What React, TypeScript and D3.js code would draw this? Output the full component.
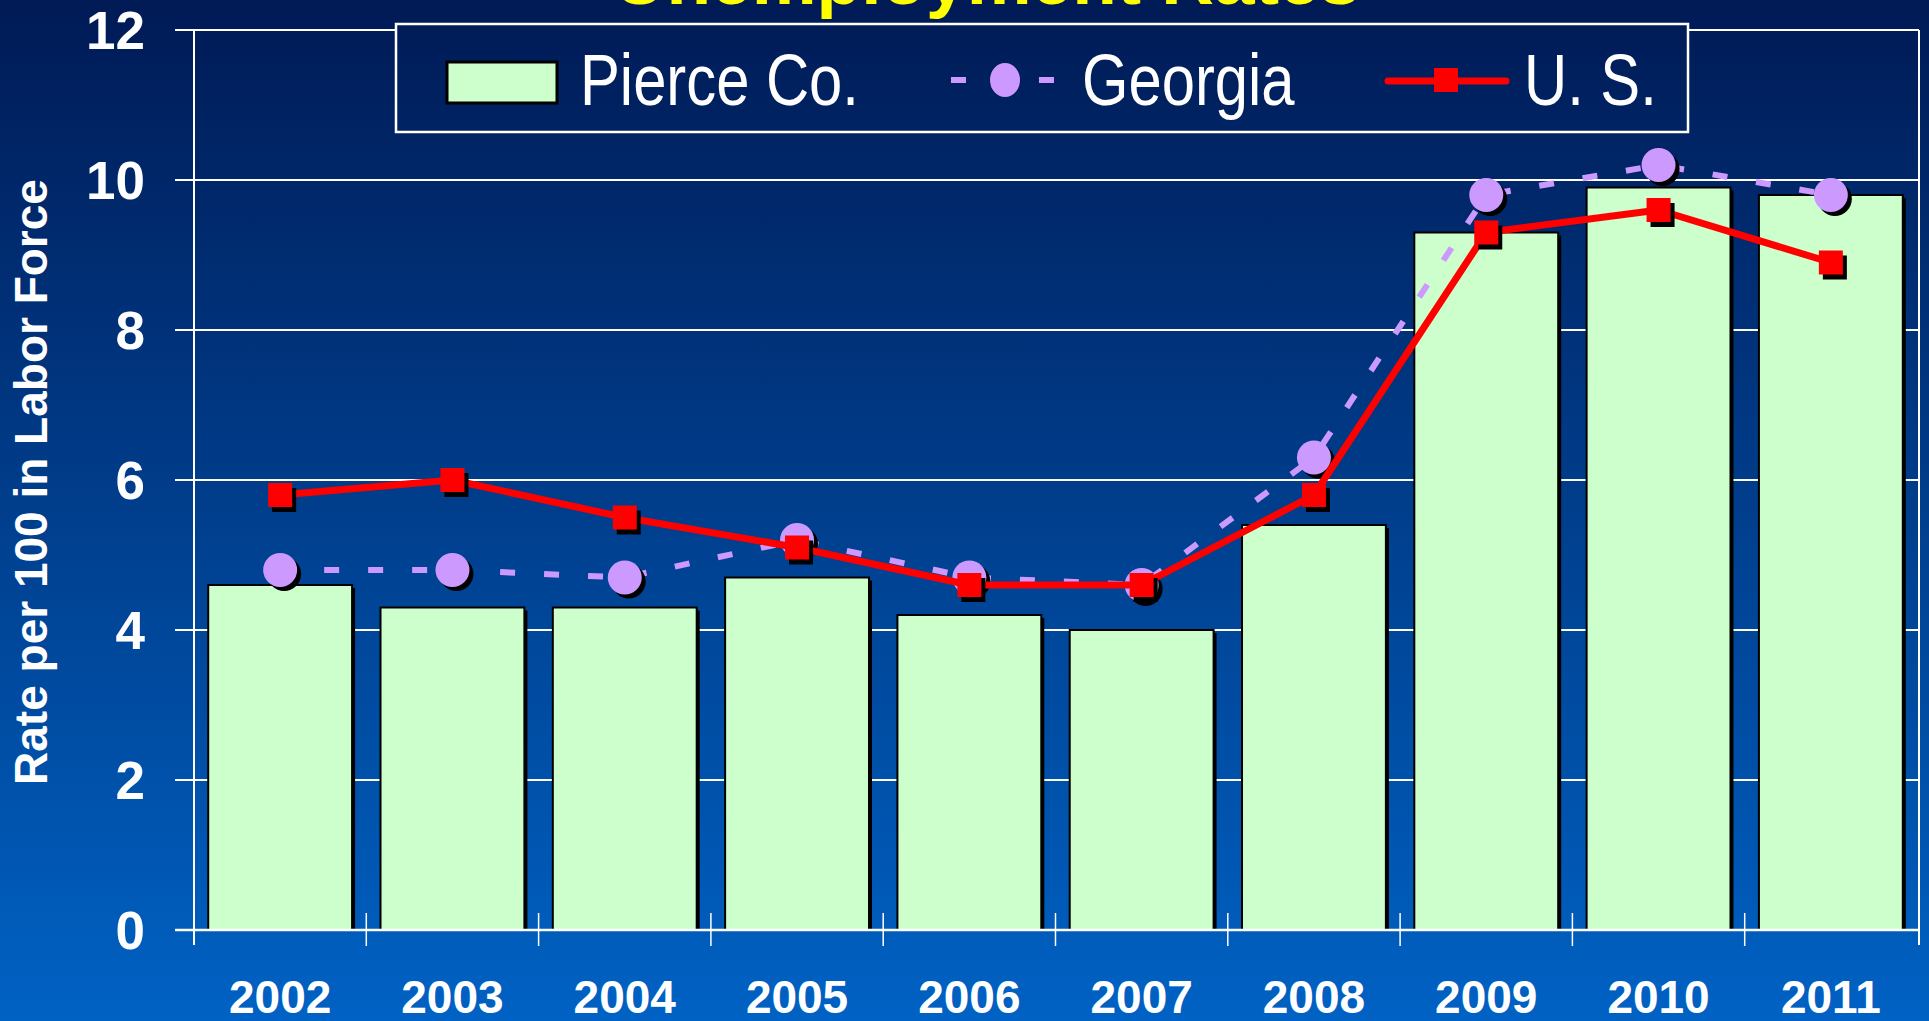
import React from 'react';
import * as d3 from 'd3';

// chart data
const years = ['2002', '2003', '2004', '2005', '2006', '2007', '2008', '2009', '2010', '2011'];
const pierceCo = [4.6, 4.3, 4.3, 4.7, 4.2, 4.0, 5.4, 9.3, 9.9, 9.8];
const georgia = [4.8, 4.8, 4.7, 5.2, 4.7, 4.6, 6.3, 9.8, 10.2, 9.8];
const usRate = [5.8, 6.0, 5.5, 5.1, 4.6, 4.6, 5.8, 9.3, 9.6, 8.9];
const yTicks = [0, 2, 4, 6, 8, 10, 12];

const W = 1929;
const H = 1021;

const App = () => {
    const left = 194;
    const right = 1917;
    const x = d3.scaleBand<string>()
        .domain(years)
        .range([left, right])
        .paddingInner(0.165)
        .paddingOuter(0.0825);
    const slot = d3.scaleBand<string>().domain(years).range([left, right]);
    const y = d3.scaleLinear().domain([0, 12]).range([930, 30]);

    const cx = (yr: string) => (x(yr) as number) + x.bandwidth() / 2;

    const line = d3.line<number>()
        .x((_, i) => cx(years[i]))
        .y(d => y(d));

    const narrow = 'scale(0.83,1)';

    return (
        <div style={{ position: 'fixed', left: 0, top: 0, width: W, height: H, overflow: 'hidden' }}>
            <svg width={W} height={H} style={{ display: 'block' }}>
                <defs>
                    <linearGradient id="bg" x1="0" y1="0" x2="0" y2={H} gradientUnits="userSpaceOnUse">
                        <stop offset="0" stopColor="#001a55" />
                        <stop offset="1" stopColor="#0062c4" />
                    </linearGradient>
                </defs>
                <rect width={W} height={H} fill="url(#bg)" />

                {/* title, mostly off the top of the slide */}
                <text x={987} y={4} textAnchor="middle" fill="#ffff00"
                    style={{ font: 'bold 73px "Liberation Sans", Arial, sans-serif' }}>
                    Unemployment Rates
                </text>

                {/* gridlines */}
                {yTicks.map(t => (
                    <line key={'g' + t} x1={175} x2={1919} y1={y(t)} y2={y(t)} stroke="#fff" strokeWidth={2} />
                ))}

                {/* bars */}
                {years.map((yr, i) => (
                    <g key={'b' + yr}>
                        <rect x={(x(yr) as number) + 3} y={y(pierceCo[i]) + 3} width={x.bandwidth()}
                            height={y(0) - y(pierceCo[i]) - 3} fill="#000" />
                        <rect x={x(yr)} y={y(pierceCo[i])} width={x.bandwidth()}
                            height={y(0) - y(pierceCo[i])} fill="#ccffcc" stroke="#000" strokeWidth={2} />
                    </g>
                ))}

                {/* axes */}
                <line x1={175} x2={1919} y1={y(0)} y2={y(0)} stroke="#fff" strokeWidth={2.5} />
                <line x1={left} x2={left} y1={30} y2={945} stroke="#fff" strokeWidth={2} />
                <line x1={1919} x2={1919} y1={30} y2={945} stroke="#fff" strokeWidth={2} />
                {years.slice(1).map(yr => (
                    <line key={'t' + yr} x1={slot(yr)} x2={slot(yr)} y1={913} y2={946} stroke="#fff" strokeWidth={1.5} />
                ))}

                {yTicks.map(t => (
                    <text key={'yl' + t} x={145} y={y(t)} dy="0.36em" textAnchor="end" fill="#fff"
                        style={{ font: 'bold 53px "Liberation Sans", Arial, sans-serif' }}>
                        {t}
                    </text>
                ))}
                {years.map(yr => (
                    <text key={'xl' + yr} x={slot(yr)! + slot.bandwidth() / 2} y={1013} textAnchor="middle" fill="#fff"
                        style={{ font: 'bold 46px "Liberation Sans", Arial, sans-serif' }}>
                        {yr}
                    </text>
                ))}
                <text transform="translate(47,482) rotate(-90)" textAnchor="middle" fill="#fff"
                    style={{ font: 'bold 46px "Liberation Sans", Arial, sans-serif' }}>
                    Rate per 100 in Labor Force
                </text>

                {/* legend */}
                <rect x={396} y={24} width={1292} height={108} fill="url(#bg)" stroke="#fff" strokeWidth={2.5} />
                <rect x={447} y={62} width={110} height={41} fill="#ccffcc" stroke="#000" strokeWidth={3} />
                <text transform={`translate(580,105) ${narrow}`} fill="#fff"
                    style={{ font: '72px "Liberation Sans", Arial, sans-serif' }}>Pierce Co.</text>
                <line x1={951} x2={1054} y1={80} y2={80} stroke="#cc99ff" strokeWidth={6} strokeDasharray="15 73" />
                <line x1={1039} x2={1054} y1={80} y2={80} stroke="#cc99ff" strokeWidth={6} />
                <ellipse cx={1005} cy={80} rx={15} ry={17} fill="#cc99ff" />
                <text transform={`translate(1082,105) ${narrow}`} fill="#fff"
                    style={{ font: '72px "Liberation Sans", Arial, sans-serif' }}>Georgia</text>
                <line x1={1388} x2={1506} y1={81} y2={81} stroke="#ff0000" strokeWidth={7} strokeLinecap="round" />
                <rect x={1434} y={68} width={24} height={24} fill="#ff0000" />
                <text transform={`translate(1524,105) ${narrow}`} fill="#fff"
                    style={{ font: '72px "Liberation Sans", Arial, sans-serif' }}>U. S.</text>

                {/* Georgia series */}
                <path d={line(georgia) ?? ''} fill="none" stroke="#cc99ff" strokeWidth={6} strokeDasharray="15 29" />
                {georgia.map((v, i) => (
                    <circle key={'gs' + i} cx={cx(years[i]) + 4} cy={y(v) + 4} r={17} fill="#000" />
                ))}
                {georgia.map((v, i) => (
                    <circle key={'gc' + i} cx={cx(years[i])} cy={y(v)} r={17} fill="#cc99ff" />
                ))}

                {/* U.S. series */}
                <path d={line(usRate) ?? ''} fill="none" stroke="#ff0000" strokeWidth={7} strokeLinejoin="round" />
                {usRate.map((v, i) => (
                    <rect key={'us' + i} x={cx(years[i]) - 12 + 4} y={y(v) - 12 + 5} width={24} height={24} fill="#000" />
                ))}
                {usRate.map((v, i) => (
                    <rect key={'uc' + i} x={cx(years[i]) - 12} y={y(v) - 12} width={24} height={24} fill="#ff0000" />
                ))}
            </svg>
        </div>
    );
};

export default App;
